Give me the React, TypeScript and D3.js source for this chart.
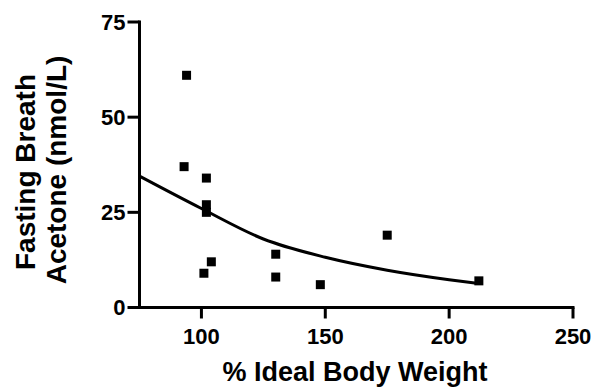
import React from 'react';
import * as d3 from 'd3';

// % ideal body weight vs fasting breath acetone
const bodyWeight = [94, 93, 102, 102, 102, 104, 101, 130, 130, 148, 175, 212];
const acetone = [61, 37, 34, 27, 25, 12, 9, 14, 8, 6, 19, 7];

// fitted decay curve
const curveX = [75, 100, 125, 150, 175, 200, 212];
const curveY = [34.5, 26, 18, 13.2, 9.8, 7.3, 6.3];

const xTicks = [100, 150, 200, 250];
const yTicks = [0, 25, 50, 75];

const width = 592;
const height = 390;
const font = "'Liberation Sans', Arial, Helvetica, sans-serif";

export default function App() {
  const x = d3.scaleLinear().domain([75, 250]).range([139.5, 573]);
  const y = d3.scaleLinear().domain([0, 75]).range([307.5, 22]);

  const line = d3.line<number>()
    .x((d, i) => x(curveX[i]))
    .y(d => y(d))
    .curve(d3.curveMonotoneX);

  const sq = 9;

  return (
    <svg width={width} height={height} style={{ position: 'absolute', left: 0, top: 0, background: '#fff' }}>
      <g fontFamily={font} fontWeight="bold" fill="#000">
        {/* y axis */}
        <line x1={x(75)} x2={x(75)} y1={y(75) - 1.5} y2={y(0) + 1.5} stroke="#000" strokeWidth={3} />
        {yTicks.map(t => (
          <g key={t}>
            <line x1={x(75) - 12} x2={x(75)} y1={y(t)} y2={y(t)} stroke="#000" strokeWidth={3} />
            <text x={x(75) - 14} y={y(t)} dy="0.36em" textAnchor="end" fontSize={22}>{t}</text>
          </g>
        ))}
        {/* x axis */}
        <line x1={x(75)} x2={x(250) + 1.5} y1={y(0)} y2={y(0)} stroke="#000" strokeWidth={3} />
        {xTicks.map(t => (
          <g key={t}>
            <line x1={x(t)} x2={x(t)} y1={y(0)} y2={y(0) + 11} stroke="#000" strokeWidth={3} />
            <text x={x(t)} y={y(0) + 36} textAnchor="middle" fontSize={22}>{t}</text>
          </g>
        ))}
        <text x={355} y={381} textAnchor="middle" fontSize={27}>% Ideal Body Weight</text>
        <text transform="translate(35,172) rotate(-90)" textAnchor="middle" fontSize={28}>Fasting Breath</text>
        <text transform="translate(66,170) rotate(-90)" textAnchor="middle" fontSize={28}>Acetone (nmol/L)</text>

        <path d={line(curveY) || ''} fill="none" stroke="#000" strokeWidth={3} />
        {bodyWeight.map((b, i) => (
          <rect key={i} x={x(b) - sq / 2} y={y(acetone[i]) - sq / 2} width={sq} height={sq} fill="#000" />
        ))}
      </g>
    </svg>
  );
}
